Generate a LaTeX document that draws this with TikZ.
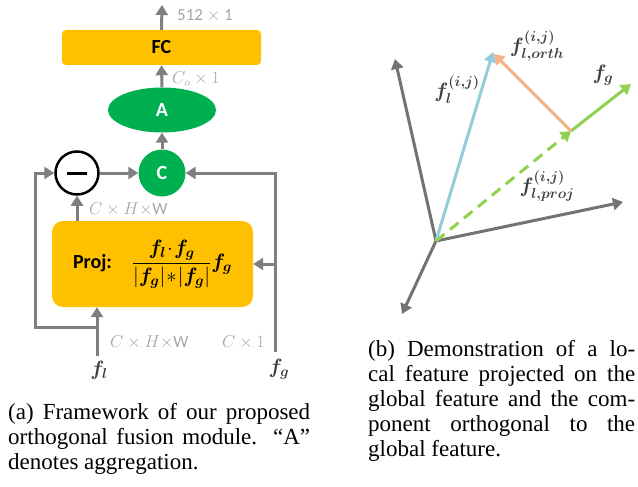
\documentclass[tikz,border=0pt]{standalone}
\usepackage{fontspec}
\usepackage{amsmath,bm}
\setmainfont{Liberation Serif}
\newfontfamily\calib{Carlito}
\usetikzlibrary{arrows.meta,shapes.geometric,calc}
\definecolor{lgray}{HTML}{7F7F7F}
\definecolor{axgray}{HTML}{737373}
\definecolor{labgray}{HTML}{A6A6A6}
\definecolor{dgray}{HTML}{404040}
\definecolor{boxorange}{HTML}{FFC000}
\definecolor{nodegreen}{HTML}{00B050}
\definecolor{vblue}{HTML}{92CDDC}
\definecolor{vorange}{HTML}{F4B183}
\definecolor{vgreen}{HTML}{92D050}
\begin{document}
\begin{tikzpicture}[x=1pt,y=-1pt,
  tip/.style={-{Triangle[length=10pt,width=12pt]}},
  arr/.style={draw=lgray,line width=3pt,tip},
  ln/.style={draw=lgray,line width=3pt,line join=miter},
  glab/.style={text=labgray,font=\calib\fontsize{17}{20}\selectfont,anchor=west,inner sep=0pt},
  flab/.style={text=dgray,font=\fontsize{22}{25}\selectfont,inner sep=0pt},
  boxy/.style={fill=boxorange,draw=none,font=\calib\bfseries\fontsize{20}{24}\selectfont},
  gnode/.style={fill=nodegreen,draw=none,text=white,inner sep=0pt,font=\calib\bfseries\fontsize{20}{24}\selectfont},
  vec/.style={line width=3pt,tip},
  capline/.style={anchor=base west,inner sep=0pt,font=\fontsize{23}{25}\selectfont}
]
\useasboundingbox (0,0) rectangle (638,487);

% ---------- left diagram ----------
\node[boxy,rounded corners=4pt,minimum width=199pt,minimum height=35pt] (fc) at (161.5,47.5) {FC};
\node[gnode,ellipse,minimum width=108pt,minimum height=45pt] (A) at (162,110) {A};
\node[gnode,circle,minimum size=47pt] (C) at (162,173) {C};
\node[circle,draw=black,line width=2.5pt,fill=white,minimum size=43pt,inner sep=0pt] (minus) at (77,173) {};
\draw[line width=3pt] ($(minus.center)+(-10,0)$) -- ($(minus.center)+(10,0)$);
\node[boxy,rounded corners=11pt,minimum width=201pt,minimum height=86pt] (proj) at (152.5,264)
  {Proj:\quad$\dfrac{\bm{f}_{\bm{l}}\!\cdot\!\bm{f}_{\bm{g}}}{|\bm{f}_{\bm{g}}|\!*\!|\bm{f}_{\bm{g}}|}\bm{f}_{\bm{g}}$};

\coordinate (out) at (162,5);
\coordinate (flb) at (97,356);
\coordinate (fgb) at (275,352);
\coordinate (loopL) at (35,327);

\draw[arr] (fc.north) -- (out);
\draw[arr] (A.north) -- (fc.south);
\draw[arr] (C.north) -- (A.south);
\draw[arr] (minus.east) -- (C.west);
\draw[arr] (minus.south |- proj.north) -- (minus.south);
\draw[arr] (flb) -- (flb |- proj.south);
\draw[ln,tip] (flb |- loopL) -- (loopL) -- (loopL |- minus.west) -- (minus.west);
\draw[ln,tip] (fgb) -- (fgb |- C.east) -- (C.east);
\draw[arr] (fgb |- proj.east) -- (proj.east);

\node[glab] (l512) at (177,16) {512 $\times$ 1};
\node[glab] (lco) at (172,79) {$C_o\times 1$};
\node[glab] (lchw1) at (89,209) {$C\times H\times$W};
\node[glab] (lchw2) at (110,342) {$C\times H\times$W};
\node[glab] (lc1) at (222,342) {$C\times 1$};
\node[flab] (fl) at (99,370) {$\bm{f}_{\bm{l}}$};
\node[flab] (fg) at (279,369) {$\bm{f}_{\bm{g}}$};

% ---------- right diagram ----------
\coordinate (O) at (436,241);
\coordinate (ax1) at (395,59);
\coordinate (ax2) at (623,202);
\coordinate (ax3) at (402,314);
\coordinate (flend) at (493,52);
\coordinate (P) at (571,131);
\coordinate (fgend) at (631,84);
\coordinate (orthend) at (494,54);

\draw[vec,draw=axgray] (O) -- (ax1);
\draw[vec,draw=axgray] (O) -- (ax2);
\draw[vec,draw=axgray] (O) -- (ax3);
\draw[vec,draw=vblue] (O) -- (flend);
\draw[vec,draw=vgreen,dash pattern=on 11pt off 7pt] (O) -- (P);
\draw[vec,draw=vgreen] (P) -- (fgend);
\draw[vec,draw=vorange] (P) -- (orthend);

\node[flab] (lfl) at (457,90) {$\bm{f}_{\bm{l}}^{\bm{(i,j)}}$};
\node[flab] (lorth) at (537,46) {$\bm{f}_{\bm{l,orth}}^{\bm{(i,j)}}$};
\node[flab] (lfg) at (603,75) {$\bm{f}_{\bm{g}}$};
\node[flab] (lproj) at (547,186) {$\bm{f}_{\bm{l,proj}}^{\bm{(i,j)}}$};

% ---------- captions ----------
\node[capline] (ca1) at (8,419) {\makebox[302pt][s]{(a) Framework of our proposed}};
\node[capline] (ca2) at (8,444) {\makebox[302pt][s]{orthogonal fusion module. ``A''}};
\node[capline] (ca3) at (8,469) {denotes aggregation.};

\node[capline] (cb1) at (368,356) {\makebox[267pt][s]{(b) Demonstration of a lo-}};
\node[capline] (cb2) at (368,381) {\makebox[267pt][s]{cal feature projected on the}};
\node[capline] (cb3) at (368,406) {\makebox[267pt][s]{global feature and the com-}};
\node[capline] (cb4) at (368,431) {\makebox[267pt][s]{ponent orthogonal to the}};
\node[capline] (cb5) at (368,456) {global feature.};
\end{tikzpicture}
\end{document}
